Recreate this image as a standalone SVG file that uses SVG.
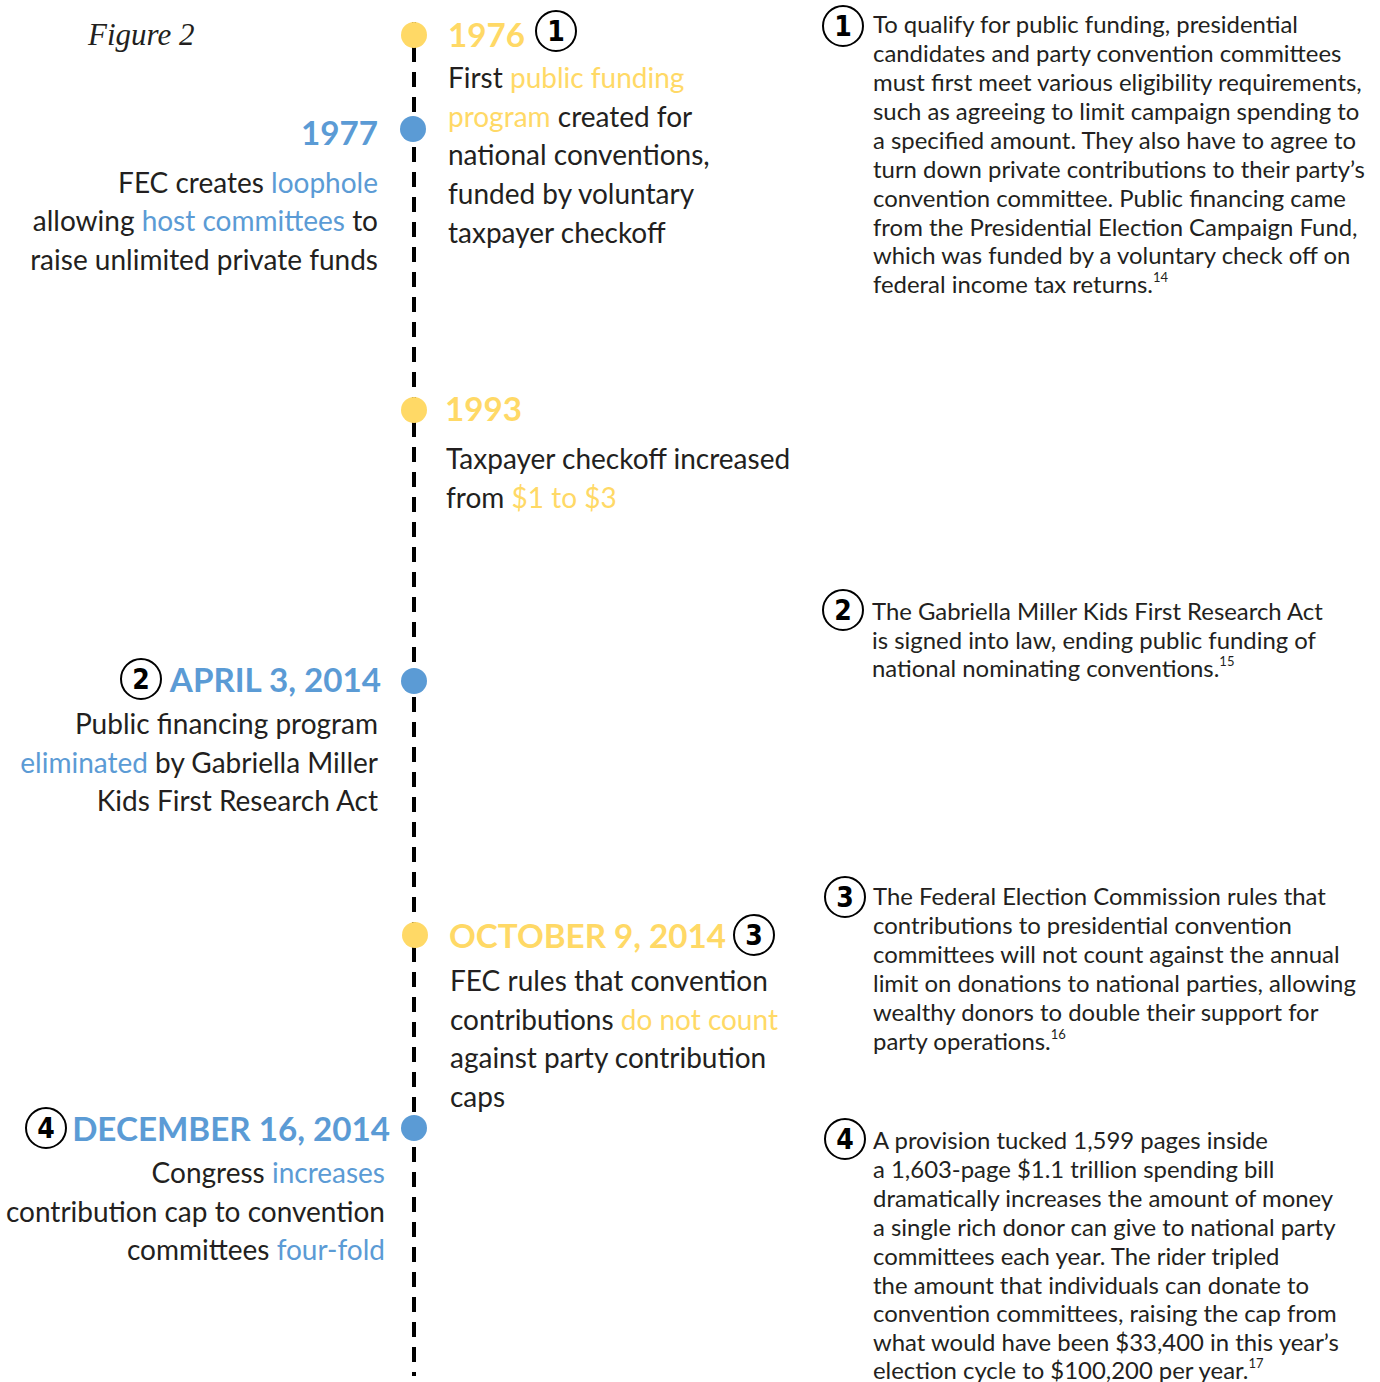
<svg xmlns="http://www.w3.org/2000/svg" width="1380" height="1382" viewBox="0 0 1380 1382">
<style>
text{font-family:Lato,"Noto Sans",sans-serif;fill:#231f20}
.yr{font-size:33.2px;font-weight:bold}
.b{font-size:28px}
.r{font-size:23.9px}
.y{fill:#ffd966}
.bl{fill:#5b9bd5}
.end{text-anchor:end}
.num{font-family:"DejaVu Sans Condensed","DejaVu Sans",sans-serif;font-size:28px;font-weight:bold;text-anchor:middle;fill:#000}
.cn{fill:none;stroke:#000;stroke-width:2}
.sup{font-size:13px}
.dy{fill:#ffd966}
.db{fill:#5b9bd5}
</style>
<rect width="1380" height="1382" fill="#fff"/>
<text x="88" y="45" style="font-family:'Liberation Serif',serif;font-style:italic;font-size:31px">Figure 2</text>
<g id="connectors">
<line x1="414" y1="22" x2="414" y2="1376" stroke="#000" stroke-width="4" stroke-dasharray="15 10"/>
</g>
<g id="n1976">
<circle class="dy" cx="414" cy="35" r="13"/>
<text class="yr y" x="448" y="47">1976</text>
<ellipse class="cn" cx="556" cy="31" rx="20" ry="20"/>
<text class="num" x="556" y="41">1</text>
<text class="b" x="448" y="88">First <tspan class="y">public funding</tspan></text>
<text class="b" x="448" y="127"><tspan class="y">program</tspan> created for</text>
<text class="b" x="448" y="165">national conventions,</text>
<text class="b" x="448" y="204">funded by voluntary</text>
<text class="b" x="448" y="243">taxpayer checkoff</text>
</g>
<g id="n1977">
<circle class="db" cx="413" cy="129" r="13"/>
<text class="yr bl end" x="378" y="145">1977</text>
<text class="b end" x="378" y="193">FEC creates <tspan class="bl">loophole</tspan></text>
<text class="b end" x="378" y="231">allowing <tspan class="bl">host committees</tspan> to</text>
<text class="b end" x="378" y="270">raise unlimited private funds</text>
</g>
<g id="n1993">
<circle class="dy" cx="414" cy="410" r="13"/>
<text class="yr y" x="445" y="421">1993</text>
<text class="b" x="446" y="469">Taxpayer checkoff increased</text>
<text class="b" x="446" y="508">from <tspan class="y">$1 to $3</tspan></text>
</g>
<g id="n2014a">
<circle class="db" cx="414" cy="681" r="13"/>
<ellipse class="cn" cx="141" cy="679" rx="20" ry="20"/>
<text class="num" x="141" y="689">2</text>
<text class="yr bl end" x="381" y="692">APRIL 3, 2014</text>
<text class="b end" x="378" y="734">Public financing program</text>
<text class="b end" x="378" y="773"><tspan class="bl">eliminated</tspan> by Gabriella Miller</text>
<text class="b end" x="378" y="811">Kids First Research Act</text>
</g>
<g id="n2014o">
<circle class="dy" cx="415" cy="935" r="13"/>
<text class="yr y" x="449" y="948">OCTOBER 9, 2014</text>
<ellipse class="cn" cx="754" cy="935" rx="20" ry="20"/>
<text class="num" x="754" y="945">3</text>
<text class="b" x="450" y="991">FEC rules that convention</text>
<text class="b" x="450" y="1030">contributions <tspan class="y">do not count</tspan></text>
<text class="b" x="450" y="1068">against party contribution</text>
<text class="b" x="450" y="1107">caps</text>
</g>
<g id="n2014d">
<circle class="db" cx="414" cy="1128" r="13"/>
<ellipse class="cn" cx="46" cy="1128" rx="20" ry="20"/>
<text class="num" x="46" y="1138">4</text>
<text class="yr bl end" x="390" y="1141">DECEMBER 16, 2014</text>
<text class="b end" x="385" y="1183">Congress <tspan class="bl">increases</tspan></text>
<text class="b end" x="385" y="1222">contribution cap to convention</text>
<text class="b end" x="385" y="1260">committees <tspan class="bl">four-fold</tspan></text>
</g>
<g id="note1">
<ellipse class="cn" cx="843" cy="26" rx="20" ry="20"/>
<text class="num" x="843" y="36">1</text>
<text class="r" x="873" y="33">To qualify for public funding, presidential</text>
<text class="r" x="873" y="62">candidates and party convention committees</text>
<text class="r" x="873" y="91">must first meet various eligibility requirements,</text>
<text class="r" x="873" y="120">such as agreeing to limit campaign spending to</text>
<text class="r" x="873" y="149">a specified amount. They also have to agree to</text>
<text class="r" x="873" y="178">turn down private contributions to their party’s</text>
<text class="r" x="873" y="207">convention committee. Public financing came</text>
<text class="r" x="873" y="236">from the Presidential Election Campaign Fund,</text>
<text class="r" x="873" y="264">which was funded by a voluntary check off on</text>
<text class="r" x="873" y="293">federal income tax returns.<tspan class="sup" dy="-11">14</tspan></text>
</g>
<g id="note2">
<ellipse class="cn" cx="843" cy="610" rx="20" ry="20"/>
<text class="num" x="843" y="620">2</text>
<text class="r" x="872" y="620">The Gabriella Miller Kids First Research Act</text>
<text class="r" x="872" y="649">is signed into law, ending public funding of</text>
<text class="r" x="872" y="677">national nominating conventions.<tspan class="sup" dy="-11">15</tspan></text>
</g>
<g id="note3">
<ellipse class="cn" cx="845" cy="897" rx="20" ry="20"/>
<text class="num" x="845" y="907">3</text>
<text class="r" x="873" y="905">The Federal Election Commission rules that</text>
<text class="r" x="873" y="934">contributions to presidential convention</text>
<text class="r" x="873" y="963">committees will not count against the annual</text>
<text class="r" x="873" y="992">limit on donations to national parties, allowing</text>
<text class="r" x="873" y="1021">wealthy donors to double their support for</text>
<text class="r" x="873" y="1050">party operations.<tspan class="sup" dy="-11">16</tspan></text>
</g>
<g id="note4">
<ellipse class="cn" cx="845" cy="1139" rx="20" ry="20"/>
<text class="num" x="845" y="1149">4</text>
<text class="r" x="873" y="1149">A provision tucked 1,599 pages inside</text>
<text class="r" x="873" y="1178">a 1,603-page $1.1 trillion spending bill</text>
<text class="r" x="873" y="1207">dramatically increases the amount of money</text>
<text class="r" x="873" y="1236">a single rich donor can give to national party</text>
<text class="r" x="873" y="1265">committees each year. The rider tripled</text>
<text class="r" x="873" y="1294">the amount that individuals can donate to</text>
<text class="r" x="873" y="1322">convention committees, raising the cap from</text>
<text class="r" x="873" y="1351">what would have been $33,400 in this year’s</text>
<text class="r" x="873" y="1379">election cycle to $100,200 per year.<tspan class="sup" dy="-11">17</tspan></text>
</g>
</svg>
